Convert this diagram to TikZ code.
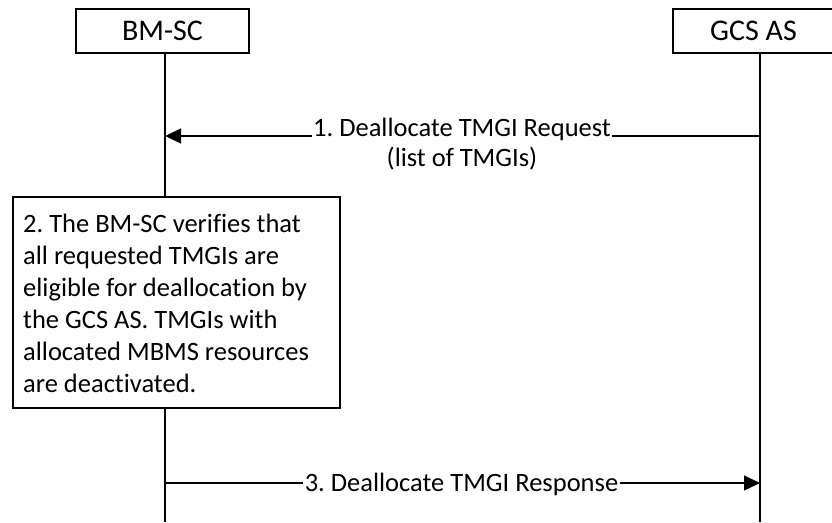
\documentclass[tikz,border=0pt]{standalone}
\usepackage{fontspec}
\setmainfont[Ligatures=NoCommon]{Carlito}
\usetikzlibrary{arrows.meta}
\frenchspacing
\begin{document}
\begin{tikzpicture}[x=1pt,y=-1pt,
  ent/.style={draw, line width=1.2pt, rectangle, inner sep=0pt},
  hdr/.style={ent, font=\fontsize{30}{36}\selectfont},
  stepbox/.style={ent, font=\fontsize{26.5}{32.5}\selectfont, align=left},
  life/.style={line width=1.2pt},
  msg/.style={line width=1.2pt, -{Triangle[length=16pt,width=15pt]}},
  lbl/.style={fill=white, inner xsep=1.5pt, inner ysep=0pt, font=\fontsize{26.5}{32}\selectfont}]
\useasboundingbox (0,0) rectangle (832,522);
% entities
\node[hdr, minimum width=173pt, minimum height=44pt] (bm) at (162.5,31) {BM-SC};
\node[hdr, minimum width=161pt, minimum height=44pt] (gcs) at (753.5,31) {GCS AS};
% lifeline anchors
\coordinate (bmtop) at (165,53);
\coordinate (gcstop) at (760,53);
\coordinate (bmbot) at (165,522);
\coordinate (gcsbot) at (760,522);
% step 2 box
\node[stepbox, minimum width=327pt, minimum height=211pt] (s2) at (176.5,302.5) {};
\node[font=\fontsize{26.5}{32}\selectfont, align=left, anchor=base west, inner sep=0pt] (s2t) at (23,392)
 {2. The BM-SC verifies that\\all requested TMGIs are\\eligible for deallocation by\\the GCS AS. TMGIs with\\allocated MBMS resources\\are deactivated.};
\coordinate (s2top) at (165,197);
\coordinate (s2bot) at (165,408);
% lifelines
\draw[life] (bmtop) -- (s2top);
\draw[life] (s2bot) -- (bmbot);
\draw[life] (gcstop) -- (gcsbot);
% message 1
\coordinate (m1s) at (760,136);
\coordinate (m1e) at (165,136);
\draw[msg] (m1s) -- (m1e);
\node[lbl, anchor=base] (l1) at (462,136) {1. Deallocate TMGI Request};
\node[lbl, anchor=base, fill=none] (l1b) at (462,166) {(list of TMGIs)};
% message 3
\coordinate (m3s) at (165,483);
\coordinate (m3e) at (760,483);
\draw[msg] (m3s) -- (m3e);
\node[lbl, anchor=base, inner ysep=1pt] (l3) at (461.5,491) {3. Deallocate TMGI Response};
\end{tikzpicture}
\end{document}
